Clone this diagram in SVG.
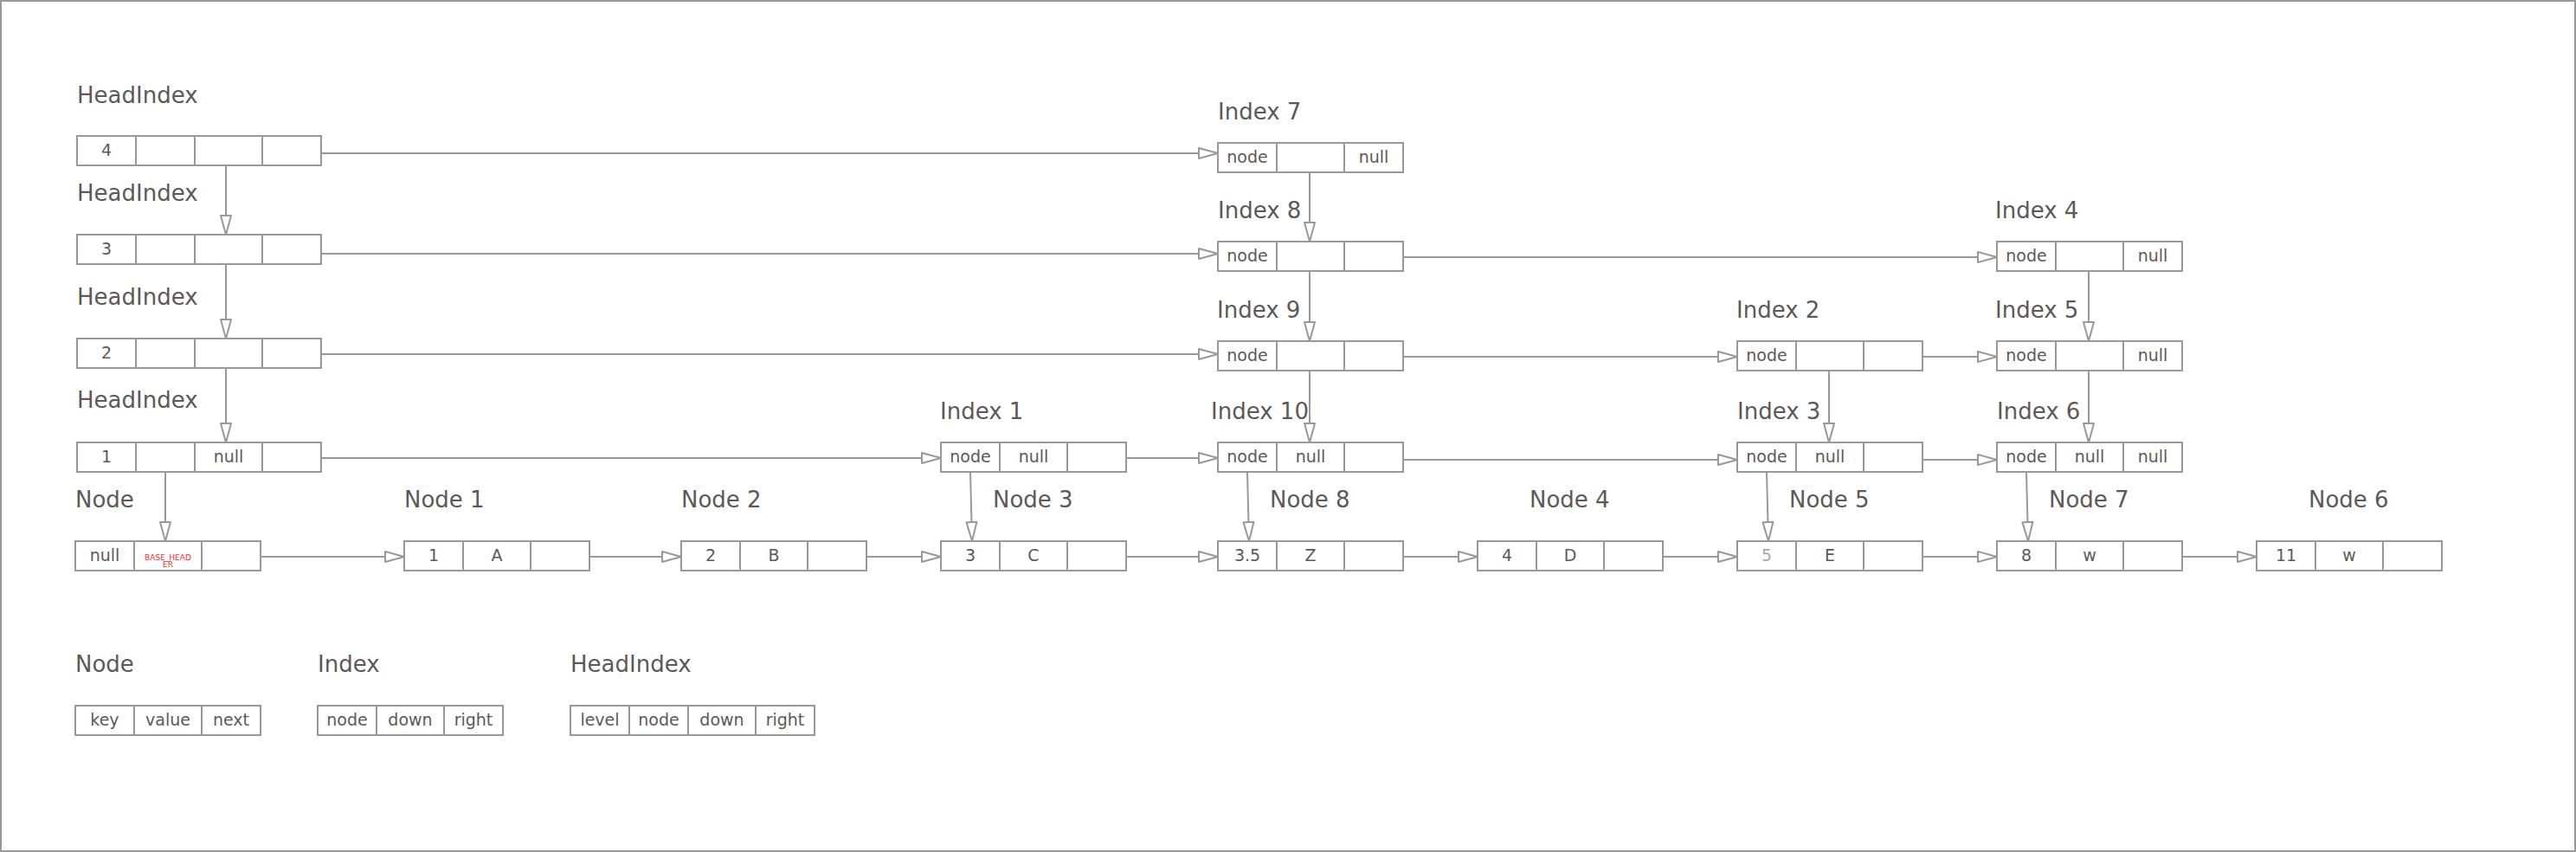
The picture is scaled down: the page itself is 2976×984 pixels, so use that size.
<svg xmlns="http://www.w3.org/2000/svg" width="2976" height="984" viewBox="0 0 2976 984">
<style>
.b{fill:#fff;stroke:#999;stroke-width:2}
.d{fill:none;stroke:#999;stroke-width:2}
.lbl{font-family:"DejaVu Sans","Liberation Sans",sans-serif;font-size:26px;fill:#5e5858}
.t{font-family:"DejaVu Sans","Liberation Sans",sans-serif;font-size:19px;fill:#5e5858;text-anchor:middle}
.r{font-family:"DejaVu Sans","Liberation Sans",sans-serif;font-size:9px;fill:#ff2a2a;text-anchor:middle}
.c{fill:none;stroke:#999;stroke-width:2;marker-end:url(#ah)}
</style>
<defs>
<marker id="ah" markerUnits="userSpaceOnUse" markerWidth="24" markerHeight="14" viewBox="0 0 24 14" refX="23" refY="7" orient="auto" overflow="visible">
<path d="M1,1 L23,7 L1,13 Z" fill="#fff" stroke="#999" stroke-width="2" stroke-linejoin="round"/>
</marker>
</defs>
<rect x="0" y="0" width="2976" height="984" fill="#fff"/>
<rect x="1" y="1" width="2974" height="982" fill="none" stroke="#999" stroke-width="2"/>

<g id="connectors">
<path class="c" d="M371 177H1407"/>
<path class="c" d="M371 293H1407"/>
<path class="c" d="M1621 297H2307"/>
<path class="c" d="M371 409H1407"/>
<path class="c" d="M1621 412H2007"/>
<path class="c" d="M2221 412H2307"/>
<path class="c" d="M371 529H1087"/>
<path class="c" d="M1301 529H1407"/>
<path class="c" d="M1621 531H2007"/>
<path class="c" d="M2221 531H2307"/>
<path class="c" d="M301 643H467"/>
<path class="c" d="M681 643H787"/>
<path class="c" d="M1001 643H1087"/>
<path class="c" d="M1301 643H1407"/>
<path class="c" d="M1621 643H1707"/>
<path class="c" d="M1921 643H2007"/>
<path class="c" d="M2221 643H2307"/>
<path class="c" d="M2521 643H2607"/>
<path class="c" d="M261 191V271"/>
<path class="c" d="M261 305V391"/>
<path class="c" d="M261 425V511"/>
<path class="c" d="M191 545V625"/>
<path class="c" d="M1513 199V279"/>
<path class="c" d="M1513 313V394"/>
<path class="c" d="M1513 428V511"/>
<path class="c" d="M1441 545L1443 625"/>
<path class="c" d="M1121 545L1123 625"/>
<path class="c" d="M2113 428V511"/>
<path class="c" d="M2041 545L2043 625"/>
<path class="c" d="M2413 313V394"/>
<path class="c" d="M2413 428V511"/>
<path class="c" d="M2341 545L2343 625"/>
</g>

<g id="headindex4">
<text class="lbl" x="89" y="119">HeadIndex</text>
<rect class="b" x="89" y="157" width="282" height="34"/>
<path class="d" d="M157 157v34M225 157v34M303 157v34"/>
<text class="t" x="123" y="180">4</text>
</g>
<g id="headindex3">
<text class="lbl" x="89" y="232">HeadIndex</text>
<rect class="b" x="89" y="271" width="282" height="34"/>
<path class="d" d="M157 271v34M225 271v34M303 271v34"/>
<text class="t" x="123" y="294">3</text>
</g>
<g id="headindex2">
<text class="lbl" x="89" y="352">HeadIndex</text>
<rect class="b" x="89" y="391" width="282" height="34"/>
<path class="d" d="M157 391v34M225 391v34M303 391v34"/>
<text class="t" x="123" y="414">2</text>
</g>
<g id="headindex1">
<text class="lbl" x="89" y="471">HeadIndex</text>
<rect class="b" x="89" y="511" width="282" height="34"/>
<path class="d" d="M157 511v34M225 511v34M303 511v34"/>
<text class="t" x="123" y="534">1</text>
<text class="t" x="264" y="534">null</text>
</g>

<g id="index7">
<text class="lbl" x="1407" y="138">Index 7</text>
<rect class="b" x="1407" y="165" width="214" height="34"/>
<path class="d" d="M1475 165v34M1553 165v34"/>
<text class="t" x="1441" y="188">node</text>
<text class="t" x="1587" y="188">null</text>
</g>
<g id="index8">
<text class="lbl" x="1407" y="252">Index 8</text>
<rect class="b" x="1407" y="279" width="214" height="34"/>
<path class="d" d="M1475 279v34M1553 279v34"/>
<text class="t" x="1441" y="302">node</text>
</g>
<g id="index9">
<text class="lbl" x="1406" y="367">Index 9</text>
<rect class="b" x="1407" y="394" width="214" height="34"/>
<path class="d" d="M1475 394v34M1553 394v34"/>
<text class="t" x="1441" y="417">node</text>
</g>
<g id="index10">
<text class="lbl" x="1399" y="484">Index 10</text>
<rect class="b" x="1407" y="511" width="214" height="34"/>
<path class="d" d="M1475 511v34M1553 511v34"/>
<text class="t" x="1441" y="534">node</text>
<text class="t" x="1514" y="534">null</text>
</g>
<g id="index1">
<text class="lbl" x="1086" y="484">Index 1</text>
<rect class="b" x="1087" y="511" width="214" height="34"/>
<path class="d" d="M1155 511v34M1233 511v34"/>
<text class="t" x="1121" y="534">node</text>
<text class="t" x="1194" y="534">null</text>
</g>
<g id="index2">
<text class="lbl" x="2006" y="367">Index 2</text>
<rect class="b" x="2007" y="394" width="214" height="34"/>
<path class="d" d="M2075 394v34M2153 394v34"/>
<text class="t" x="2041" y="417">node</text>
</g>
<g id="index3">
<text class="lbl" x="2007" y="484">Index 3</text>
<rect class="b" x="2007" y="511" width="214" height="34"/>
<path class="d" d="M2075 511v34M2153 511v34"/>
<text class="t" x="2041" y="534">node</text>
<text class="t" x="2114" y="534">null</text>
</g>
<g id="index4">
<text class="lbl" x="2305" y="252">Index 4</text>
<rect class="b" x="2307" y="279" width="214" height="34"/>
<path class="d" d="M2375 279v34M2453 279v34"/>
<text class="t" x="2341" y="302">node</text>
<text class="t" x="2487" y="302">null</text>
</g>
<g id="index5">
<text class="lbl" x="2305" y="367">Index 5</text>
<rect class="b" x="2307" y="394" width="214" height="34"/>
<path class="d" d="M2375 394v34M2453 394v34"/>
<text class="t" x="2341" y="417">node</text>
<text class="t" x="2487" y="417">null</text>
</g>
<g id="index6">
<text class="lbl" x="2307" y="484">Index 6</text>
<rect class="b" x="2307" y="511" width="214" height="34"/>
<path class="d" d="M2375 511v34M2453 511v34"/>
<text class="t" x="2341" y="534">node</text>
<text class="t" x="2414" y="534">null</text>
<text class="t" x="2487" y="534">null</text>
</g>

<g id="node-head">
<text class="lbl" x="87" y="586">Node</text>
<rect class="b" x="87" y="625" width="214" height="34"/>
<path class="d" d="M155 625v34M233 625v34"/>
<text class="t" x="121" y="648">null</text>
<text class="r" x="194" y="647">BASE_HEAD</text>
<text class="r" x="194" y="655">ER</text>
</g>
<g id="node1">
<text class="lbl" x="467" y="586">Node 1</text>
<rect class="b" x="467" y="625" width="214" height="34"/>
<path class="d" d="M535 625v34M613 625v34"/>
<text class="t" x="501" y="648">1</text>
<text class="t" x="574" y="648">A</text>
</g>
<g id="node2">
<text class="lbl" x="787" y="586">Node 2</text>
<rect class="b" x="787" y="625" width="214" height="34"/>
<path class="d" d="M855 625v34M933 625v34"/>
<text class="t" x="821" y="648">2</text>
<text class="t" x="894" y="648">B</text>
</g>
<g id="node3">
<text class="lbl" x="1147" y="586">Node 3</text>
<rect class="b" x="1087" y="625" width="214" height="34"/>
<path class="d" d="M1155 625v34M1233 625v34"/>
<text class="t" x="1121" y="648">3</text>
<text class="t" x="1194" y="648">C</text>
</g>
<g id="node8">
<text class="lbl" x="1467" y="586">Node 8</text>
<rect class="b" x="1407" y="625" width="214" height="34"/>
<path class="d" d="M1475 625v34M1553 625v34"/>
<text class="t" x="1441" y="648">3.5</text>
<text class="t" x="1514" y="648">Z</text>
</g>
<g id="node4">
<text class="lbl" x="1767" y="586">Node 4</text>
<rect class="b" x="1707" y="625" width="214" height="34"/>
<path class="d" d="M1775 625v34M1853 625v34"/>
<text class="t" x="1741" y="648">4</text>
<text class="t" x="1814" y="648">D</text>
</g>
<g id="node5">
<text class="lbl" x="2067" y="586">Node 5</text>
<rect class="b" x="2007" y="625" width="214" height="34"/>
<path class="d" d="M2075 625v34M2153 625v34"/>
<text class="t" x="2041" y="648" style="fill:#aaa">5</text>
<text class="t" x="2114" y="648">E</text>
</g>
<g id="node7">
<text class="lbl" x="2367" y="586">Node 7</text>
<rect class="b" x="2307" y="625" width="214" height="34"/>
<path class="d" d="M2375 625v34M2453 625v34"/>
<text class="t" x="2341" y="648">8</text>
<text class="t" x="2414" y="648">w</text>
</g>
<g id="node6">
<text class="lbl" x="2667" y="586">Node 6</text>
<rect class="b" x="2607" y="625" width="214" height="34"/>
<path class="d" d="M2675 625v34M2753 625v34"/>
<text class="t" x="2641" y="648">11</text>
<text class="t" x="2714" y="648">w</text>
</g>

<g id="legend-node">
<text class="lbl" x="87" y="776">Node</text>
<rect class="b" x="87" y="815" width="214" height="34"/>
<path class="d" d="M155 815v34M233 815v34"/>
<text class="t" x="121" y="838">key</text>
<text class="t" x="194" y="838">value</text>
<text class="t" x="267" y="838">next</text>
</g>
<g id="legend-index">
<text class="lbl" x="367" y="776">Index</text>
<rect class="b" x="367" y="815" width="214" height="34"/>
<path class="d" d="M435 815v34M513 815v34"/>
<text class="t" x="401" y="838">node</text>
<text class="t" x="474" y="838">down</text>
<text class="t" x="547" y="838">right</text>
</g>
<g id="legend-headindex">
<text class="lbl" x="659" y="776">HeadIndex</text>
<rect class="b" x="659" y="815" width="282" height="34"/>
<path class="d" d="M727 815v34M795 815v34M873 815v34"/>
<text class="t" x="693" y="838">level</text>
<text class="t" x="761" y="838">node</text>
<text class="t" x="834" y="838">down</text>
<text class="t" x="907" y="838">right</text>
</g>
</svg>
